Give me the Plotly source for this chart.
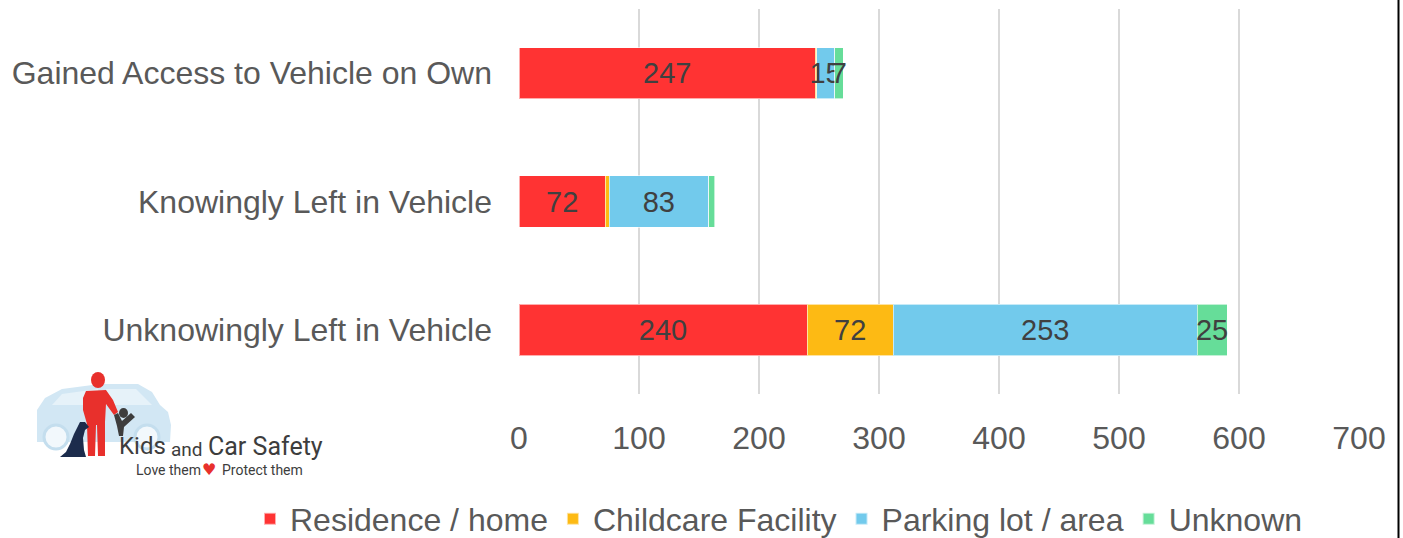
import plotly.graph_objects as go

categories = ["Gained Access to Vehicle on Own", "Knowingly Left in Vehicle", "Unknowingly Left in Vehicle"]
series_names = ["Residence / home", "Childcare Facility", "Parking lot / area", "Unknown"]
residence = [247, 72, 240]
childcare = [1, 3, 72]
parking = [15, 83, 253]
unknown = [7, 5, 25]
colors = ["#FF3333", "#FDBA14", "#72CAEC", "#66DD99"]
x_ticks = [0, 100, 200, 300, 400, 500, 600, 700]

W, H = 1403, 538
L, R, T, B = 519, 44, 9, 144
PW, PH = W - L - R, H - T - B

def X(px):
    return (px - L) / PW

def Y(py):
    return (H - B - py) / PH

FONT = "Liberation Sans, Arial, sans-serif"
fig = go.Figure()
for name, vals, col in zip(series_names, [residence, childcare, parking, unknown], colors):
    fig.add_trace(go.Bar(
        y=categories, x=vals, name=name, orientation="h",
        marker=dict(color=col, line=dict(color="rgba(255,255,255,0.6)", width=1)),
        text=[str(v) if v >= 7 else "" for v in vals],
        textposition="inside", insidetextanchor="middle", textangle=0,
        constraintext="none", cliponaxis=False,
        textfont=dict(size=29, color="#404040", family=FONT),
        hoverinfo="skip",
    ))

shapes = []
# right border line
shapes.append(dict(type="line", xref="paper", yref="paper", x0=X(1398.5), x1=X(1398.5),
                   y0=Y(0), y1=Y(H), line=dict(color="#000000", width=2)))

def path(points):
    return "M " + " L ".join(f"{X(a):.5f},{Y(b):.5f}" for a, b in points) + " Z"

# logo: car silhouette (light blue, facing right)
shapes.append(dict(type="path", xref="paper", yref="paper", layer="below",
                   path=path([(37, 442), (37, 410), (45, 398), (62, 389), (100, 384), (138, 384),
                              (152, 392), (160, 405), (168, 412), (171, 425), (170, 442)]),
                   fillcolor="#D2E7F4", line=dict(width=0)))
# windows
shapes.append(dict(type="path", xref="paper", yref="paper", layer="below",
                   path=path([(52, 405), (62, 394), (98, 389), (100, 405)]),
                   fillcolor="#E6F2F9", line=dict(width=0)))
shapes.append(dict(type="path", xref="paper", yref="paper", layer="below",
                   path=path([(106, 405), (106, 389), (136, 389), (152, 405)]),
                   fillcolor="#E6F2F9", line=dict(width=0)))
for cx in (56, 147):
    shapes.append(dict(type="circle", xref="paper", yref="paper", layer="below",
                       x0=X(cx - 12), x1=X(cx + 12), y0=Y(449), y1=Y(425),
                       fillcolor="#F2F8FC", line=dict(color="#C4DEEE", width=3)))
# red adult
shapes.append(dict(type="circle", xref="paper", yref="paper",
                   x0=X(91), x1=X(105), y0=Y(388), y1=Y(372), fillcolor="#E8302C", line=dict(width=0)))
shapes.append(dict(type="path", xref="paper", yref="paper",
                   path=path([(86, 391), (106, 390), (113, 400), (118, 412), (114, 415), (106, 404), (105, 422),
                              (105, 456), (98, 456), (97, 425), (96, 425), (95, 456), (88, 456), (87, 424), (83, 410), (83, 398)]),
                   fillcolor="#E8302C", line=dict(width=0)))
# child (dark gray)
shapes.append(dict(type="circle", xref="paper", yref="paper",
                   x0=X(119), x1=X(128), y0=Y(418), y1=Y(408), fillcolor="#3D3D3D", line=dict(width=0)))
shapes.append(dict(type="path", xref="paper", yref="paper",
                   path=path([(114, 415), (118, 413), (122, 421), (131, 413), (135, 417), (124, 427), (123, 436), (119, 436), (117, 426)]),
                   fillcolor="#3D3D3D", line=dict(width=0)))
# dog (navy, sitting)
shapes.append(dict(type="path", xref="paper", yref="paper",
                   path=path([(60, 457), (66, 452), (70, 444), (74, 434), (78, 426), (80, 422), (85, 422), (89, 427),
                              (85, 430), (83, 438), (84, 450), (86, 457)]),
                   fillcolor="#1C2C4C", line=dict(width=0)))

annotations = [
    dict(text="Kids", x=X(117), y=Y(446), xref="paper", yref="paper", xanchor="left", yanchor="middle",
         showarrow=False, font=dict(family="Roboto, sans-serif", size=24, color="#3D3D3D")),
    dict(text="and", x=X(169), y=Y(449), xref="paper", yref="paper", xanchor="left", yanchor="middle",
         showarrow=False, font=dict(family="Roboto, sans-serif", size=19, color="#3D3D3D")),
    dict(text="Car Safety", x=X(206), y=Y(446), xref="paper", yref="paper", xanchor="left", yanchor="middle",
         showarrow=False, font=dict(family="Roboto, sans-serif", size=25, color="#3D3D3D")),
    dict(text="Love them", x=X(134), y=Y(470), xref="paper", yref="paper", xanchor="left", yanchor="middle",
         showarrow=False, font=dict(family="Roboto, sans-serif", size=14, color="#3D3D3D")),
    dict(text="♥", x=X(209), y=Y(469), xref="paper", yref="paper", xanchor="center", yanchor="middle",
         showarrow=False, font=dict(family="DejaVu Sans, sans-serif", size=16, color="#E8302C")),
    dict(text="Protect them", x=X(220), y=Y(470), xref="paper", yref="paper", xanchor="left", yanchor="middle",
         showarrow=False, font=dict(family="Roboto, sans-serif", size=14, color="#3D3D3D")),
]

fig.update_layout(
    width=W, height=H, barmode="stack", bargap=0.6,
    margin=dict(l=L, r=R, t=T, b=B, autoexpand=False),
    paper_bgcolor="white", plot_bgcolor="white",
    font=dict(family=FONT, color="#595959"),
    uniformtext=dict(minsize=29, mode="show"),
    shapes=shapes, annotations=annotations,
    legend=dict(orientation="h", x=X(250), xanchor="left", y=Y(519), yanchor="middle",
                font=dict(size=32, color="#595959", family=FONT), traceorder="normal",
                itemsizing="constant", bgcolor="rgba(0,0,0,0)"),
    xaxis=dict(range=[0, 700], tickvals=x_ticks, showgrid=True, gridcolor="#D9D9D9", gridwidth=1.5,
               zeroline=False, showline=False, ticks="", ticklabelstandoff=22,
               tickfont=dict(size=32, color="#595959", family=FONT), fixedrange=True),
    yaxis=dict(categoryorder="array", categoryarray=categories, autorange="reversed",
               showgrid=False, showline=False, ticks="", ticklabelstandoff=26,
               tickfont=dict(size=32, color="#595959", family=FONT), fixedrange=True),
    showlegend=True,
)

fig.write_html("out.html", config={"displayModeBar": False},
               post_script="document.body.style.margin='0';document.body.style.overflow='hidden';")
